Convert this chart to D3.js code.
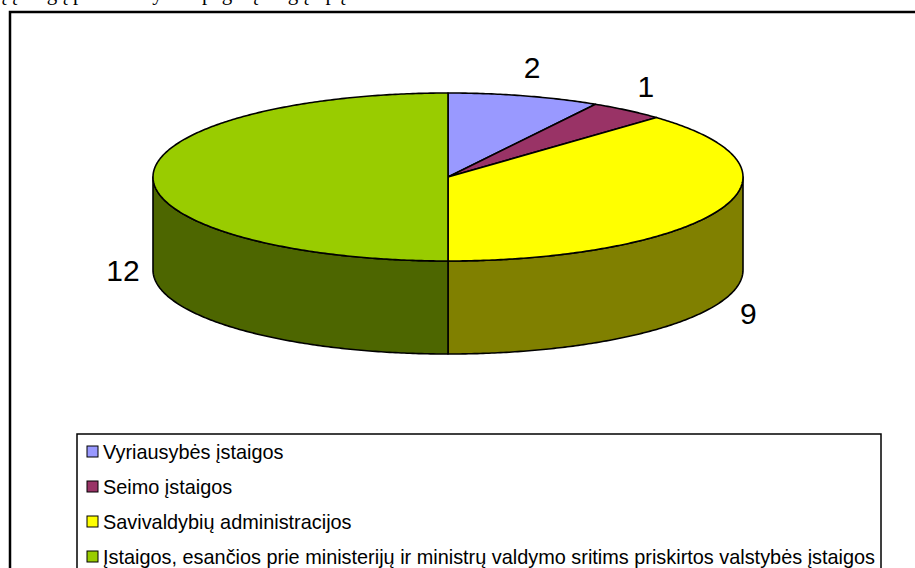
<!DOCTYPE html>
<html>
<head>
<meta charset="utf-8">
<script src="https://cdn.jsdelivr.net/npm/d3@7"></script>
<style>
  body { margin: 0; background: #fff; }
  svg { display: block; }
</style>
</head>
<body>
<script>
// duomenys
var categories = ["Vyriausybės įstaigos", "Seimo įstaigos", "Savivaldybių administracijos",
  "Įstaigos, esančios prie ministerijų ir ministrų valdymo sritims priskirtos valstybės įstaigos"];
var values = [2, 1, 9, 12];
var colors = ["#9999ff", "#993366", "#ffff00", "#99cc00"];

var width = 915, height = 568;
var cx = 448, cy = 177, rx = 295, ry = 84, depth = 93;

var svg = d3.select("body").append("svg")
  .attr("width", width)
  .attr("height", height);

// nukirstas antraštės tekstas viršuje (matosi tik apatinės raidžių dalys)
svg.append("text")
  .attr("x", -4)
  .attr("y", 0)
  .style("font-family", "'Liberation Serif', 'Times New Roman', serif")
  .style("font-size", "21px")
  .text("ų įstaigų pasiskirstymas pagal įstaigų tipą");

// rėmelis
svg.append("rect")
  .attr("x", 10).attr("y", 12)
  .attr("width", 1000).attr("height", 700)
  .attr("fill", "none")
  .attr("stroke", "#000")
  .attr("stroke-width", 2.5);

var color = d3.scaleOrdinal().domain(categories).range(colors);

// šono spalva - perpus tamsesnė
function shade(c) {
  var r = d3.rgb(c);
  return d3.rgb(r.r * 0.5, r.g * 0.5, r.b * 0.5).formatHex();
}

var pie = d3.pie().sort(null).value(function (d) { return d.v; });
var arcs = pie(categories.map(function (c, i) { return { name: c, v: values[i] }; }));

// taškas ant elipsės, kampas pagal laikrodžio rodyklę nuo viršaus
function px(a, r) { return cx + (r || rx) * Math.sin(a); }
function py(a, r) { return cy - (r || ry) * Math.cos(a); }

var line = d3.line();

function arcPoints(a0, a1, off) {
  var n = Math.max(2, Math.ceil((a1 - a0) / 0.01));
  return d3.range(n + 1).map(function (k) {
    var a = a0 + (a1 - a0) * k / n;
    return [px(a), py(a) + off];
  });
}

// šonai (matoma tik priekinė pusė: nuo PI/2 iki 3PI/2)
var sides = svg.append("g");
arcs.forEach(function (d) {
  var s = Math.max(d.startAngle, Math.PI / 2);
  var e = Math.min(d.endAngle, 3 * Math.PI / 2);
  if (e <= s) return;
  var pts = arcPoints(s, e, 0).concat(arcPoints(s, e, depth).reverse());
  sides.append("path")
    .attr("d", line(pts) + "Z")
    .attr("fill", shade(color(d.data.name)))
    .attr("stroke", "#000")
    .attr("stroke-width", 1.6)
    .attr("stroke-linejoin", "round");
});

// viršus
var tops = svg.append("g");
arcs.forEach(function (d) {
  var pts = [[cx, cy]].concat(arcPoints(d.startAngle, d.endAngle, 0));
  tops.append("path")
    .attr("d", line(pts) + "Z")
    .attr("fill", color(d.data.name))
    .attr("stroke", "#000")
    .attr("stroke-width", 1.6)
    .attr("stroke-linejoin", "round");
});

// reikšmių etiketės
var fs = 30;
svg.append("g").selectAll("text")
  .data(arcs)
  .enter().append("text")
  .attr("x", function (d) { var a = (d.startAngle + d.endAngle) / 2; return px(a, rx + 30); })
  .attr("y", function (d) {
    var a = (d.startAngle + d.endAngle) / 2;
    var y = py(a, ry + 30);
    if (Math.cos(a) <= 0) y += depth;
    return y + fs * 0.36;
  })
  .attr("text-anchor", "middle")
  .style("font-family", "'Liberation Sans', Arial, sans-serif")
  .style("font-size", fs + "px")
  .text(function (d) { return d.data.v; });

// legenda
var lg = svg.append("g");
lg.append("rect")
  .attr("x", 77).attr("y", 434)
  .attr("width", 804).attr("height", 200)
  .attr("fill", "#fff")
  .attr("stroke", "#000")
  .attr("stroke-width", 1.5);

var rowY = d3.scalePoint().domain(categories).range([451.5, 556.5]);

var items = lg.selectAll("g.item")
  .data(categories)
  .enter().append("g")
  .attr("class", "item")
  .attr("transform", function (d) { return "translate(0," + rowY(d) + ")"; });

items.append("rect")
  .attr("x", 87).attr("y", -5.5)
  .attr("width", 11).attr("height", 11)
  .attr("fill", function (d) { return color(d); })
  .attr("stroke", "#000")
  .attr("stroke-width", 1);

var labels = items.append("text")
  .attr("x", 103)
  .attr("y", 7)
  .style("font-family", "'Liberation Sans', Arial, sans-serif")
  .style("font-size", "20px")
  .text(function (d) { return d; });

// šrifto dydis pagal ilgiausią eilutę
var longest = labels.filter(function (d, i) { return i === categories.length - 1; }).node();
var lfs = 20 * 773 / longest.getComputedTextLength();
labels.style("font-size", lfs + "px").attr("y", lfs * 0.36);
</script>
</body>
</html>
